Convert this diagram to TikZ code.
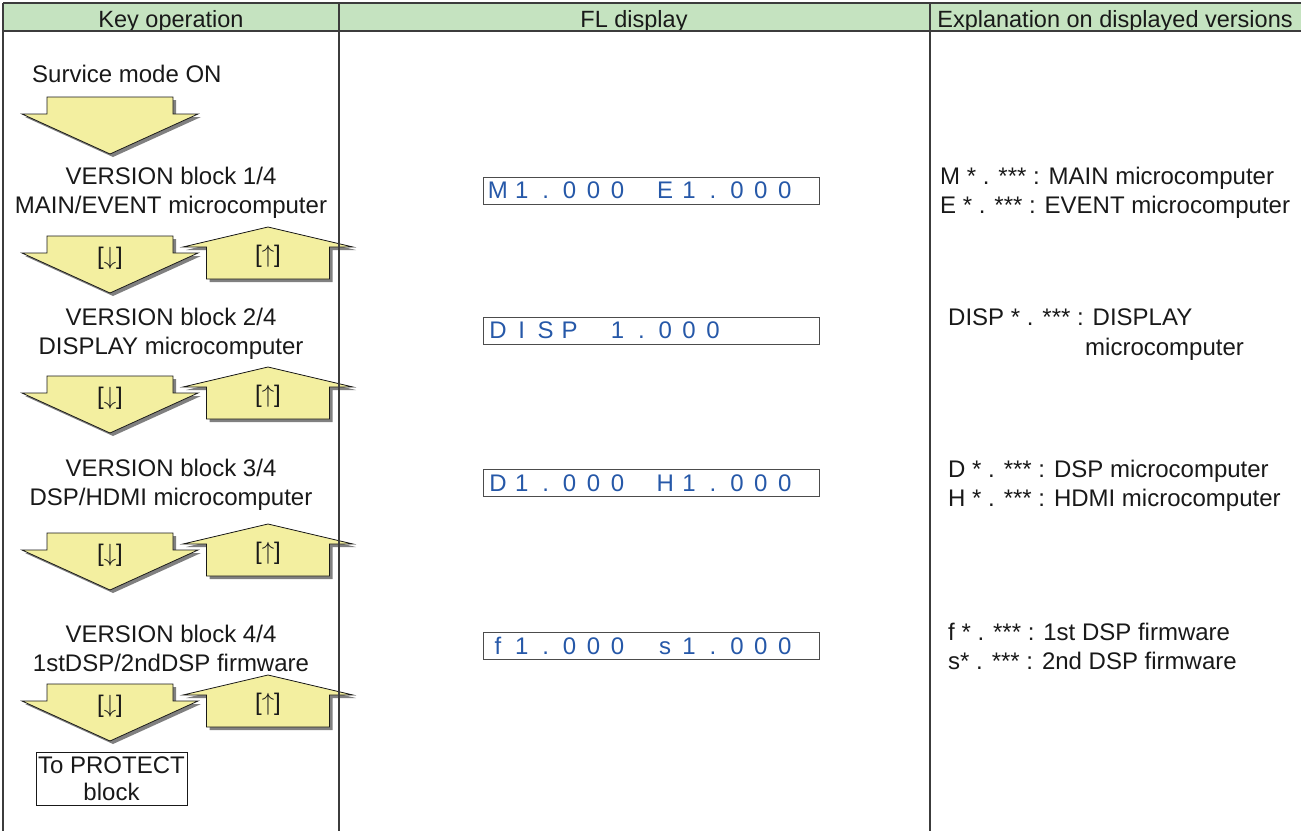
\documentclass[tikz,border=0pt]{standalone}
\usepackage{fontspec}
\setmainfont{Liberation Sans}
\usetikzlibrary{shadows}
\definecolor{headgreen}{RGB}{197,227,192}
\definecolor{keyyellow}{RGB}{243,239,160}
\definecolor{flblue}{RGB}{38,88,168}
\definecolor{rulegray}{RGB}{60,60,60}
\newlength\flpitch
\setlength\flpitch{23.9pt}
\let\flstop\relax
\def\flspread#1{\ifx#1\flstop\else\makebox[\flpitch][c]{#1}\expandafter\flspread\fi}
\newcommand\fltxt[1]{\flspread#1\flstop}
\begin{document}
\begin{tikzpicture}[x=1pt, y=-1pt,
  every node/.style={font=\fontsize{24pt}{29pt}\selectfont, text=black!90, inner sep=0pt},
  headtxt/.style={font=\fontsize{23.5pt}{28pt}\selectfont, anchor=base},
  keyarrow/.style={fill=keyyellow, draw=black!90, line width=0.8pt, line join=miter,
    drop shadow={shadow xshift=3pt, shadow yshift=-3pt, fill=black!50, opacity=1}},
  rule/.style={draw=rulegray, line width=1.4pt},
  flbox/.style={draw=black!70, line width=1pt, minimum width=336pt, minimum height=27pt,
    text width=330pt, inner xsep=3pt, align=left, text=flblue},
  pics/downkey/.style={code={
    \draw[keyarrow] (-63,0) -- (63,0) -- (63,17) -- (88,17) -- (0,57) -- (-88,17) -- (-63,17) -- cycle;
  }},
  pics/upkey/.style={code={
    \draw[keyarrow] (0,0) -- (85,20) -- (61.5,20) -- (61.5,52) -- (-61.5,52) -- (-61.5,20) -- (-85,20) -- cycle;
  }}]
  \useasboundingbox (0,0) rectangle (1301,831);

  % Header row
  \fill[headgreen] (3,3) rectangle (1301,31);
  \node[headtxt] (hkey) at (171,27) {Key operation};
  \node[headtxt] (hfl) at (634,27) {FL display};
  \node[headtxt] (hexp) at (1115,27) {Explanation on displayed versions};

  % Key operation
  \node[anchor=west] (svc) at (32,74) {Survice mode ON};
  \pic at (110,97) {downkey};
  \foreach \t [count=\i] in {227,367,524,675} {
    \pic at (268,\t) {upkey};
    \pic at (110,\t+9) {downkey};
    \node (dn\i) at (110,\t+31) {[$\downarrow$]};
    \node (up\i) at (268,\t+29) {[$\uparrow$]};
  }
  \node[align=center] (vb1) at (171,193) {VERSION block 1/4\\MAIN/EVENT microcomputer};
  \node[align=center] (vb2) at (171,334) {VERSION block 2/4\\DISPLAY microcomputer};
  \node[align=center] (vb3) at (171,485) {VERSION block 3/4\\DSP/HDMI microcomputer};
  \node[align=center] (vb4) at (171,648) {VERSION block 4/4\\1stDSP/2ndDSP firmware};
  \node[draw=black!90, line width=0.8pt, minimum width=151pt, minimum height=53pt, align=center,
    font=\fontsize{24pt}{27pt}\selectfont] (prot) at (111.5,778.5) {To PROTECT\\block};

  % FL display
  \node[flbox] (fl1) at (651,190.5) {\fltxt{M1.000~E1.000}};
  \node[flbox] (fl2) at (651,330.5) {\fltxt{DISP~1.000}};
  \node[flbox] (fl3) at (651,483) {\fltxt{D1.000~H1.000}};
  \node[flbox] (fl4) at (651,645.5) {\fltxt{f1.000~s1.000}};

  % Explanation
  \node[anchor=west, align=left] (ex1) at (940,193) {M * . *** : MAIN microcomputer\\E * . *** : EVENT microcomputer};
  \node[anchor=west] (ex2) at (948,317) {DISP * . *** : DISPLAY};
  \node[anchor=west] (ex2b) at (1085,349) {microcomputer};
  \node[anchor=west, align=left] (ex3) at (948,485.5) {D * . *** : DSP microcomputer\\H * . *** : HDMI microcomputer};
  \node[anchor=west, align=left] (ex4) at (948,646) {f * . *** : 1st DSP firmware\\s* . *** : 2nd DSP firmware};

  % Table rules
  \draw[rule] (3,3) -- (1301,3);
  \draw[rule] (3,31) -- (1301,31);
  \draw[rule] (3,3) -- (3,831);
  \draw[rule] (339,3) -- (339,831);
  \draw[rule] (930,3) -- (930,831);
\end{tikzpicture}
\end{document}
